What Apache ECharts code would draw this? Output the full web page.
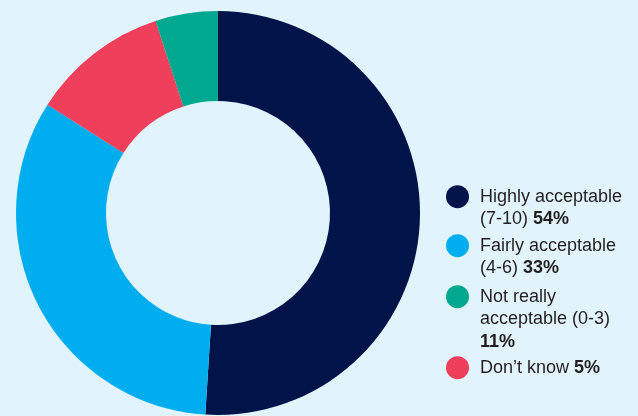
<!DOCTYPE html>
<html>
<head>
<meta charset="utf-8">
<script src="https://cdn.jsdelivr.net/npm/echarts@6/dist/echarts.min.js"></script>
<style>
html,body{margin:0;padding:0;background:#e1f3fb;}
#c{width:638px;height:416px;}
</style>
</head>
<body>
<div id="c"></div>
<script>
const categories = ['Highly acceptable (7-10)', 'Fairly acceptable (4-6)', 'Not really acceptable (0-3)', 'Don\u2019t know'];
const sliceValues = [51, 33, 11, 5];
const legendLabels = ['Highly acceptable\n(7-10) ', 'Fairly acceptable\n(4-6) ', 'Not really\nacceptable (0-3)\n', 'Don\u2019t know '];
const legendPercents = ['54%', '33%', '11%', '5%'];
const sliceColors = ['#00144a', '#00aeef', '#ef3f5b', '#00a88f'];
const legendColors = ['#00144a', '#00aeef', '#00a88f', '#ef3f5b'];
const legendIconCentersY = [196.7, 245.7, 296.7, 367.7];

const LH = 22.5;
const FONT = 'Liberation Sans, Arial, sans-serif';
const chart = echarts.init(document.getElementById('c'), null, {renderer: 'canvas'});

const legends = categories.map((n, i) => {
  const lines = (legendLabels[i] + legendPercents[i]).split('\n').length;
  const halfBox = lines > 1 ? (2 * lines - 1) * LH / 2 : 11.5;
  return {
    orient: 'vertical',
    left: 446,
    top: legendIconCentersY[i] - halfBox,
    padding: 0,
    itemWidth: 23,
    itemHeight: 23,
    icon: 'circle',
    selectedMode: false,
    textStyle: {
      fontFamily: FONT,
      fontSize: 18,
      lineHeight: LH,
      color: '#231f20',
      rich: {
        b: {fontWeight: 'bold', fontSize: 18, lineHeight: LH, color: '#231f20', fontFamily: FONT}
      }
    },
    data: [{
      name: n,
      itemStyle: {color: legendColors[i]},
      textStyle: {padding: [(lines - 1) * LH, 0, 0, 6]}
    }],
    formatter: function (name) {
      const k = categories.indexOf(name);
      return legendLabels[k] + '{b|' + legendPercents[k] + '}';
    }
  };
});

chart.setOption({
  backgroundColor: '#e1f3fb',
  animation: false,
  legend: legends,
  series: [{
    type: 'pie',
    center: [218, 213],
    radius: [112, 202],
    startAngle: 90,
    clockwise: true,
    silent: true,
    label: {show: false},
    labelLine: {show: false},
    itemStyle: {borderWidth: 0},
    emphasis: {disabled: true},
    data: categories.map((n, i) => ({name: n, value: sliceValues[i], itemStyle: {color: sliceColors[i]}}))
  }]
});
</script>
</body>
</html>
